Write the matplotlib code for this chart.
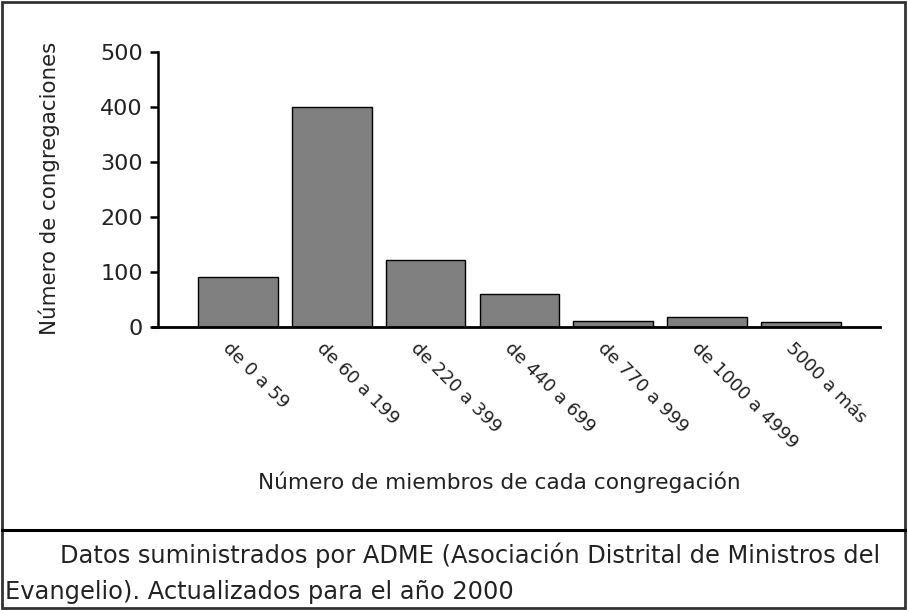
import numpy as np
import matplotlib.pyplot as plt
import matplotlib.transforms as mtransforms
from matplotlib.patches import Rectangle
from matplotlib.lines import Line2D

# datos
categorias = ["de 0 a 59", "de 60 a 199", "de 220 a 399", "de 440 a 699",
              "de 770 a 999", "de 1000 a 4999", "5000 a más"]
congregaciones = [91, 400, 121, 60, 11, 18, 10]
yticks = [0, 100, 200, 300, 400, 500]

W, H = 908, 610
fig = plt.figure(figsize=(W / 100, H / 100), dpi=100)
plt.rcParams['font.family'] = 'DejaVu Sans'

# ejes (pixeles del original)
x0, x1, y0, y1 = 153, 880, 327, 52
ax = fig.add_axes([x0 / W, 1 - y0 / H, (x1 - x0) / W, (y0 - y1) / H])

x = np.arange(len(categorias))
ax.bar(x, congregaciones, width=0.85, color='#808080', edgecolor='black', linewidth=1.0, zorder=2)

ax.spines['top'].set_visible(False)
ax.spines['right'].set_visible(False)
ax.spines['left'].set_position(('axes', 5 / (x1 - x0)))
ax.spines['left'].set_linewidth(1.8)
ax.spines['bottom'].set_linewidth(2.0)

ax.set_xlim(-0.906, 6.844)
ax.set_ylim(0, 500)
ax.set_yticks(yticks)
ax.set_yticklabels([str(t) for t in yticks], fontsize=16, color='#222222')
ax.tick_params(axis='y', direction='out', length=6, width=1.8, pad=5)
ax.tick_params(axis='x', length=0, pad=9)

ax.set_xticks(x)
ax.set_xticklabels(categorias, fontsize=13, rotation=-45, ha='left', va='top',
                   rotation_mode='anchor', color='#222222')
off = mtransforms.ScaledTranslation(-6 / 100, 0, fig.dpi_scale_trans)
for lab in ax.get_xticklabels():
    lab.set_transform(lab.get_transform() + off)

# titulos de ejes
fig.text(499 / W, 1 - 482 / H, "Número de miembros de cada congregación",
         ha='center', va='center', fontsize=15.6, color='#222222')
fig.text(49 / W, 1 - 188 / H, "Número de congregaciones", rotation=90,
         ha='center', va='center', fontsize=15.4, color='#222222')

# nota
fig.text(60 / W, 1 - 563 / H,
         "Datos suministrados por ADME (Asociación Distrital de Ministros del",
         ha='left', va='baseline', fontsize=17.4, color='#222222')
fig.text(5 / W, 1 - 599 / H, "Evangelio). Actualizados para el año 2000",
         ha='left', va='baseline', fontsize=17.4, color='#222222')

# marco
fig.add_artist(Rectangle((2 / W, 2 / H), (W - 5) / W, (H - 4) / H, transform=fig.transFigure,
                         fill=False, edgecolor='#333333', linewidth=2))
fig.add_artist(Line2D([2 / W, (W - 3) / W], [1 - 530 / H, 1 - 530 / H],
                      transform=fig.transFigure, color='black', linewidth=2.2))

fig.savefig("out.png", dpi=100)
